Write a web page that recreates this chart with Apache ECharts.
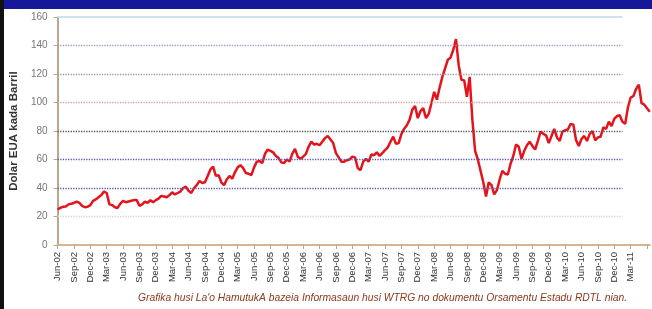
<!DOCTYPE html>
<html>
<head>
<meta charset="utf-8">
<title>Folin mina-rai WTI</title>
<script src="https://cdn.jsdelivr.net/npm/echarts@6/dist/echarts.min.js"></script>
<style>
  html, body { margin: 0; padding: 0; background: #fff; }
  #chart { width: 652px; height: 309px; }
</style>
</head>
<body>
<div id="chart"></div>
<script>
// label eixu X (kada fulan tolu)
const TICK_LABELS = [
  'Jun-02', 'Sep-02', 'Dec-02',
  'Mar-03', 'Jun-03', 'Sep-03', 'Dec-03',
  'Mar-04', 'Jun-04', 'Sep-04', 'Dec-04',
  'Mar-05', 'Jun-05', 'Sep-05', 'Dec-05',
  'Mar-06', 'Jun-06', 'Sep-06', 'Dec-06',
  'Mar-07', 'Jun-07', 'Sep-07', 'Dec-07',
  'Mar-08', 'Jun-08', 'Sep-08', 'Dec-08',
  'Mar-09', 'Jun-09', 'Sep-09', 'Dec-09',
  'Mar-10', 'Jun-10', 'Sep-10', 'Dec-10',
  'Mar-11'
];

// folin (USD/barril), rua kada fulan, hahu Jun-02
const P2002 = [25.0, 26.0, 26.8, 27.0, 28.5, 29.0, 29.5, 30.5, 29.5, 27.5, 26.5, 26.8, 28.0, 31.0];
const P2003 = [32.0, 33.5, 35.0, 37.5, 36.5, 28.5, 28.0, 26.5, 26.0, 29.0, 31.0, 30.0,
               30.5, 31.0, 31.5, 31.5, 27.5, 28.5, 30.5, 29.5, 31.5, 30.0, 31.5, 32.5];
const P2004 = [34.5, 34.0, 33.5, 35.0, 37.0, 35.5, 36.5, 37.5, 40.0, 41.0, 38.0, 36.5,
               40.0, 42.0, 45.0, 43.5, 44.0, 48.5, 53.0, 55.0, 48.5, 49.0, 44.0, 42.0];
const P2005 = [46.0, 48.5, 46.5, 51.0, 54.5, 56.0, 54.0, 50.5, 50.0, 49.0, 54.5, 58.5,
               59.0, 57.5, 64.0, 67.0, 66.0, 65.0, 62.5, 61.0, 58.0, 57.5, 60.0, 58.5];
const P2006 = [64.0, 67.5, 62.0, 60.5, 62.0, 64.0, 69.0, 72.5, 70.5, 71.0, 70.0, 72.5,
               75.0, 76.5, 74.0, 71.5, 64.5, 61.5, 58.5, 58.5, 59.5, 60.0, 62.0, 61.5];
const P2007 = [54.0, 52.5, 58.5, 60.5, 58.5, 63.5, 63.0, 65.0, 62.5, 64.5, 66.5, 68.5,
               72.5, 76.0, 71.0, 71.5, 78.0, 81.5, 84.0, 88.0, 95.0, 97.5, 89.0, 94.0];
const P2008 = [96.0, 89.0, 92.0, 99.5, 107.5, 102.0, 110.5, 118.0, 124.0, 130.0, 131.5, 137.0,
               144.5, 126.0, 116.0, 115.5, 104.0, 118.0, 88.0, 66.0, 60.0, 52.0, 44.0, 34.0];
const P2009 = [44.0, 42.0, 35.5, 38.5, 46.0, 52.0, 50.0, 49.5, 57.0, 62.5, 70.5, 69.0,
               60.5, 66.0, 70.0, 72.5, 69.5, 67.0, 73.0, 79.5, 78.0, 77.0, 71.5, 76.5];
const P2010 = [81.5, 75.5, 73.0, 79.5, 80.5, 81.0, 85.0, 84.5, 73.5, 69.5, 74.5, 76.5,
               73.0, 78.0, 80.0, 73.5, 75.5, 76.0, 82.5, 81.5, 86.5, 83.5, 88.5, 90.5];
const P2011 = [91.0, 86.5, 85.0, 96.5, 103.5, 104.5, 109.5, 112.5, 99.5, 98.5, 96.0, 93.5];

const PRICES = [].concat(P2002, P2003, P2004, P2005, P2006, P2007, P2008, P2009, P2010, P2011);

const Y_TICKS = [0, 20, 40, 60, 80, 100, 120, 140, 160];
const GRID_COLORS = ['#d6b592', '#d5d5de', '#5c5cae', '#4f5db4', '#555555',
                     '#d8a2a2', '#9a9aaa', '#b495bd', '#cde4f0'];
const CAPTION = "Grafika husi La'o HamutukA bazeia Informasaun husi WTRG no dokumentu Orsamentu Estadu RDTL nian.";

const FONT = '"Liberation Sans", Arial, sans-serif';
const GRID_END = 103.5; // liña grade sira remata iha Jan-11

const chart = echarts.init(document.getElementById('chart'));

const option = {
  backgroundColor: '#ffffff',
  animation: false,
  grid: {
    left: 53,
    right: 2.25,
    top: 17,
    bottom: 64
  },
  xAxis: {
    type: 'value',
    min: 0,
    max: (PRICES.length - 1) / 2,
    interval: 3,
    axisLine: { show: true, lineStyle: { color: '#d6b592', width: 2 } },
    axisTick: { show: true, length: 4, lineStyle: { color: '#b8a68e' } },
    splitLine: { show: false },
    axisLabel: {
      rotate: 90,
      fontSize: 9.5,
      fontFamily: FONT,
      color: '#333',
      margin: 7,
      showMaxLabel: false,
      formatter: function (v) {
        return TICK_LABELS[v / 3] || '';
      }
    }
  },
  yAxis: {
    type: 'value',
    min: Y_TICKS[0],
    max: Y_TICKS[Y_TICKS.length - 1],
    interval: 20,
    name: 'Dolar EUA kada Barril',
    nameLocation: 'middle',
    nameRotate: 90,
    nameGap: 36,
    nameTextStyle: {
      fontSize: 11.5,
      fontWeight: 'bold',
      fontFamily: FONT,
      color: '#333'
    },
    axisLine: { show: true, lineStyle: { color: '#b8a890', width: 2 } },
    axisTick: { show: true, length: 4, lineStyle: { color: '#b8a890' } },
    axisLabel: {
      fontSize: 10,
      fontFamily: FONT,
      color: '#777',
      margin: 10
    },
    splitLine: { show: false }
  },
  series: [
    {
      name: 'WTI',
      type: 'line',
      symbol: 'none',
      z: 3,
      data: PRICES.map((v, i) => [i / 2, v]),
      lineStyle: { color: '#e3141c', width: 2.5 },
      markLine: {
        silent: true,
        symbol: 'none',
        label: { show: false },
        data: Y_TICKS.slice(1).map((y, i) => [
          {
            coord: [0, y],
            lineStyle: {
              color: GRID_COLORS[i + 1],
              type: y === 160 ? 'solid' : 'dotted',
              width: y === 160 ? 2 : 1.3
            }
          },
          { coord: [GRID_END, y] }
        ])
      }
    }
  ],
  graphic: [
    {
      type: 'rect',
      left: 0,
      top: 0,
      shape: { width: 652, height: 9 },
      style: { fill: '#17179a' },
      silent: true
    },
    {
      type: 'rect',
      left: 0,
      top: 0,
      shape: { width: 4, height: 309 },
      style: { fill: '#111' },
      silent: true
    },
    {
      type: 'text',
      right: 25,
      top: 293,
      style: {
        text: CAPTION,
        font: 'italic 10.3px ' + FONT,
        fill: '#8a3a1e'
      },
      silent: true
    }
  ]
};

chart.setOption(option);
</script>
</body>
</html>
